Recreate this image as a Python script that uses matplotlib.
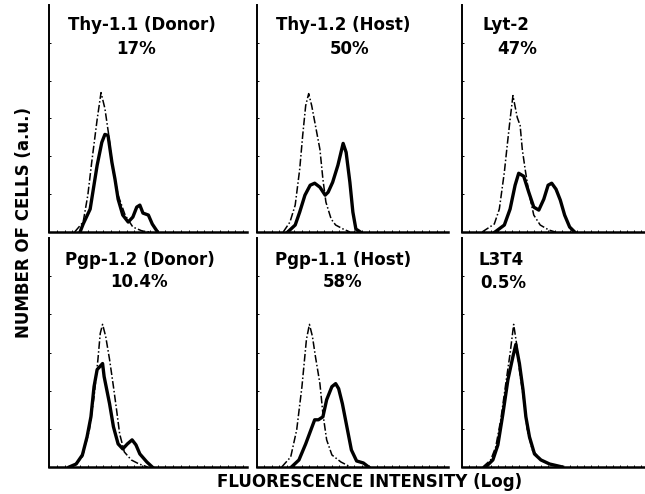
import matplotlib.pyplot as plt
import numpy as np

# channel (0-255) / relative cell count
titles = ['Thy-1.1 (Donor)', 'Thy-1.2 (Host)', 'Lyt-2',
          'Pgp-1.2 (Donor)', 'Pgp-1.1 (Host)', 'L3T4']
percents = ['17%', '50%', '47%', '10.4%', '58%', '0.5%']

# control (dash-dot) and stained (solid) histograms, one pair per panel
thy11_ctrl_x = [33, 44, 50, 55, 62, 67, 72, 77, 82, 89, 98, 108, 120, 130]
thy11_ctrl_y = [0, 10, 37, 70, 113, 140, 124, 97, 64, 37, 17, 5, 1, 0]
thy11_x = [40, 44, 53, 62, 68, 72, 76, 81, 85, 89, 95, 102, 108, 113, 117, 121, 128, 133, 139]
thy11_y = [0, 8, 23, 67, 90, 98, 97, 70, 53, 33, 17, 10, 15, 25, 27, 19, 17, 8, 1]

thy12_ctrl_x = [35, 44, 51, 57, 61, 65, 69, 73, 79, 84, 88, 92, 99, 105, 115, 124]
thy12_ctrl_y = [0, 10, 27, 63, 97, 127, 139, 127, 103, 83, 53, 30, 13, 7, 3, 0]
thy12_x = [41, 51, 57, 64, 71, 77, 84, 91, 95, 101, 108, 115, 119, 124, 128, 132, 138]
thy12_y = [0, 7, 20, 37, 47, 49, 45, 37, 40, 50, 67, 89, 80, 50, 20, 3, 0]

lyt2_ctrl_x = [28, 45, 52, 59, 63, 67, 71, 77, 81, 84, 88, 93, 100, 109, 121, 130]
lyt2_ctrl_y = [0, 8, 23, 60, 87, 113, 137, 115, 107, 83, 63, 40, 17, 7, 2, 0]
lyt2_x = [46, 59, 67, 74, 79, 86, 93, 100, 107, 114, 120, 125, 131, 137, 143, 150, 157]
lyt2_y = [0, 7, 23, 47, 59, 56, 40, 25, 22, 33, 47, 49, 43, 32, 17, 5, 0]

pgp12_ctrl_x = [30, 43, 52, 58, 63, 66, 69, 73, 78, 83, 87, 91, 97, 106, 116, 127]
pgp12_ctrl_y = [0, 10, 37, 70, 107, 133, 142, 130, 107, 80, 57, 33, 15, 7, 3, 0]
pgp12_x = [26, 35, 43, 49, 54, 58, 62, 69, 71, 78, 83, 89, 95, 101, 107, 112, 117, 126, 133]
pgp12_y = [0, 3, 12, 30, 50, 80, 97, 103, 90, 63, 40, 23, 18, 23, 27, 22, 13, 5, 0]

pgp11_ctrl_x = [33, 45, 53, 60, 66, 70, 74, 78, 84, 88, 93, 100, 112, 125]
pgp11_ctrl_y = [0, 10, 37, 80, 127, 142, 130, 110, 83, 53, 27, 12, 5, 0]
pgp11_x = [46, 56, 65, 72, 77, 82, 88, 93, 100, 105, 109, 114, 120, 126, 133, 142, 149]
pgp11_y = [0, 7, 23, 37, 47, 47, 50, 67, 80, 83, 78, 63, 40, 17, 6, 4, 0]

l3t4_ctrl_x = [29, 40, 47, 54, 61, 67, 72, 76, 80, 86, 91, 98, 110, 126, 140]
l3t4_ctrl_y = [0, 7, 20, 47, 83, 113, 142, 123, 97, 67, 37, 17, 7, 2, 0]
l3t4_x = [33, 43, 50, 57, 64, 71, 75, 80, 85, 89, 94, 101, 110, 122, 140]
l3t4_y = [0, 7, 22, 53, 87, 110, 122, 103, 77, 50, 30, 13, 7, 3, 0]

ctrl = [(thy11_ctrl_x, thy11_ctrl_y), (thy12_ctrl_x, thy12_ctrl_y), (lyt2_ctrl_x, lyt2_ctrl_y),
        (pgp12_ctrl_x, pgp12_ctrl_y), (pgp11_ctrl_x, pgp11_ctrl_y), (l3t4_ctrl_x, l3t4_ctrl_y)]
stained = [(thy11_x, thy11_y), (thy12_x, thy12_y), (lyt2_x, lyt2_y),
           (pgp12_x, pgp12_y), (pgp11_x, pgp11_y), (l3t4_x, l3t4_y)]

plt.rcParams['font.family'] = ['DejaVu Sans']

fig = plt.figure(figsize=(6.45, 4.94), dpi=100)

# axes boxes in pixels: left, right, top, bottom
cols = [(49, 247), (257, 448), (462, 645)]
rows = [(5, 232), (238, 467)]
W, H = 645.0, 494.0

# title anchors (x in px, alignment) per panel
title_x = [142, 343, 483, 140, 343, 478]
title_ha = ['center', 'center', 'left', 'center', 'center', 'left']
pct_x = [136, 350, 497, 139, 343, 480]
pct_ha = ['center', 'center', 'left', 'center', 'center', 'left']
title_y = [25, 25, 25, 260, 260, 260]
pct_y = [49, 49, 49, 282, 282, 283]

for i in range(6):
    r, c = divmod(i, 3)
    x0, x1 = cols[c]
    y0, y1 = rows[r]
    ax = fig.add_axes([x0 / W, 1 - y1 / H, (x1 - x0) / W, (y1 - y0) / H])
    cx, cy = ctrl[i]
    sx, sy = stained[i]
    ax.plot(cx, cy, color='black', lw=1.1, ls=(0, (5, 1.5, 1, 1.5)))
    ax.plot(sx, sy, color='black', lw=2.4, solid_joinstyle='round')
    ax.set_xlim(0, 255)
    ax.set_ylim(0, 228)
    for s in ['top', 'right']:
        ax.spines[s].set_visible(False)
    ax.spines['left'].set_linewidth(1.4)
    ax.spines['bottom'].set_linewidth(1.8)
    ax.set_xticks(np.arange(0, 256, 10))
    ax.set_yticks(np.arange(0, 228, 38))
    ax.tick_params(direction='in', length=1.5, width=0.7,
                   labelbottom=False, labelleft=False)
    fig.text(title_x[i] / W, 1 - title_y[i] / H, titles[i], ha=title_ha[i], va='center',
             fontsize=12, fontweight='bold')
    fig.text(pct_x[i] / W, 1 - pct_y[i] / H, percents[i], ha=pct_ha[i], va='center',
             fontsize=12, fontweight='bold')

fig.text(24 / W, 1 - 222 / H, 'NUMBER OF CELLS (a.u.)', rotation=90,
         ha='center', va='center', fontsize=12, fontweight='bold')
fig.text(370 / W, 1 - 482 / H, 'FLUORESCENCE INTENSITY (Log)',
         ha='center', va='center', fontsize=12, fontweight='bold')

fig.savefig('out.png', dpi=100)
